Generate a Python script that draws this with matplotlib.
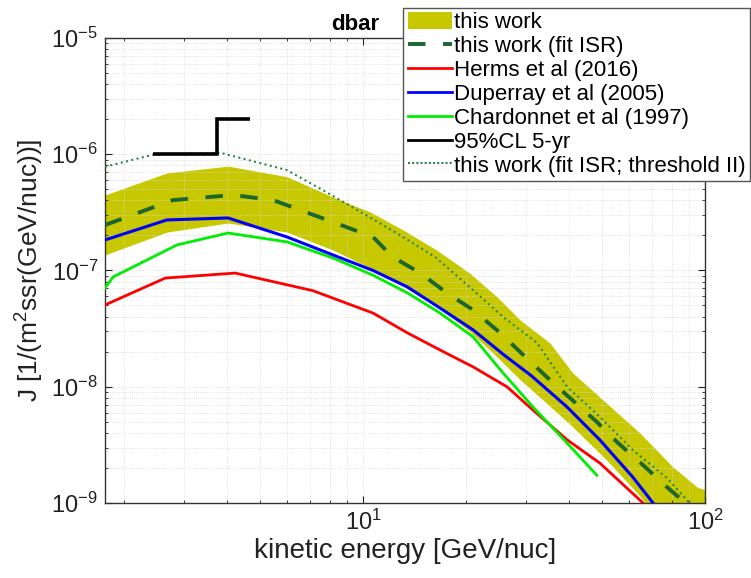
import matplotlib
matplotlib.use("Agg")
import matplotlib.pyplot as plt
from matplotlib.patches import Patch
from matplotlib.lines import Line2D
from matplotlib.ticker import NullFormatter

plt.rcParams['font.family'] = ['Liberation Sans', 'DejaVu Sans']
plt.rcParams['mathtext.fontset'] = 'custom'
plt.rcParams['mathtext.rm'] = 'Liberation Sans'
plt.rcParams['mathtext.it'] = 'Liberation Sans:italic'

# this work (band)
band_x = [1.76, 2.67, 4.03, 6.0, 8.17, 10.5, 13.1, 16.4, 20.5, 24.7, 28.8, 35.2, 41.1, 51.6, 64.5, 80.6, 94.8, 100.0]
band_hi = [4.46e-7, 6.9e-7, 7.9e-7, 6.4e-7, 4.28e-7, 3.18e-7, 2.23e-7, 1.5e-7, 9.5e-8, 5.9e-8, 3.75e-8, 2.38e-8, 1.31e-8, 7.2e-9, 4.0e-9, 2.04e-9, 1.37e-9, 1.3e-9]
band_lo = [1.36e-7, 2.14e-7, 2.56e-7, 2.14e-7, 1.5e-7, 1.05e-7, 7.3e-8, 4.9e-8, 3.0e-8, 1.8e-8, 1.15e-8, 6.8e-9, 4.5e-9, 2.34e-9, 1.15e-9, 5.0e-10, 3.0e-10, 2.5e-10]

# this work (fit ISR)
fit_x = [1.76, 2.78, 4.17, 5.46, 8.17, 10.7, 12.2, 14.7, 17.6, 21.0, 25.2, 29.4, 34.5, 40.3, 48.3, 55.7, 65.9, 77.4, 85.7, 90.0]
fit_y = [2.46e-7, 4.03e-7, 4.46e-7, 4.03e-7, 2.61e-7, 1.94e-7, 1.31e-7, 9.5e-8, 6.4e-8, 4.57e-8, 2.9e-8, 1.88e-8, 1.21e-8, 8.0e-9, 4.98e-9, 3.28e-9, 2.12e-9, 1.37e-9, 1.06e-9, 9.5e-10]

# Herms et al (2016)
herms_x = [1.76, 2.64, 4.23, 7.14, 10.7, 13.5, 16.8, 21.0, 26.4, 31.4, 39.5, 49.3, 65.9]
herms_y = [5.05e-8, 8.6e-8, 9.5e-8, 6.7e-8, 4.3e-8, 2.9e-8, 2.07e-8, 1.48e-8, 9.96e-9, 6.3e-9, 3.5e-9, 2.2e-9, 1.0e-9]

# Duperray et al (2005)
dup_x = [1.76, 2.67, 4.03, 6.0, 8.17, 10.7, 13.5, 16.8, 21.0, 26.0, 31.0, 39.5, 49.3, 61.5, 70.5]
dup_y = [1.83e-7, 2.72e-7, 2.83e-7, 1.94e-7, 1.36e-7, 1.0e-7, 7.2e-8, 4.75e-8, 3.08e-8, 1.85e-8, 1.25e-8, 6.7e-9, 3.48e-9, 1.67e-9, 1.0e-9]

# Chardonnet et al (1997)
char_x = [1.76, 1.86, 2.86, 4.03, 6.0, 8.17, 10.7, 13.5, 16.8, 21.0, 25.2, 31.4, 39.5, 48.3]
char_y = [7.06e-8, 8.8e-8, 1.66e-7, 2.1e-7, 1.76e-7, 1.28e-7, 9.1e-8, 6.4e-8, 4.3e-8, 2.68e-8, 1.4e-8, 6.7e-9, 3.28e-9, 1.73e-9]

# 95%CL 5-yr
cl_edges = [2.43, 3.74, 4.68]
cl_vals = [1e-6, 2e-6]

# this work (fit ISR; threshold II)
thr_x = [1.76, 2.43, 3.82, 6.0, 8.17, 10.5, 13.1, 16.4, 20.5, 25.7, 32.3, 39.5, 49.3, 61.5, 77.4, 88.5, 95.0]
thr_y = [7.8e-7, 9.9e-7, 1.03e-6, 7.3e-7, 4.38e-7, 2.85e-7, 1.94e-7, 1.28e-7, 7.2e-8, 3.98e-8, 2.38e-8, 1.0e-8, 5.5e-9, 2.86e-9, 1.64e-9, 1.06e-9, 8.5e-10]

band_color = '#c8c800'
fit_color = '#1c6630'
thr_color = '#2a8a45'

fig = plt.figure(figsize=(7.51, 5.78), dpi=100)
ax = fig.add_axes([0.1398, 0.1298, 0.7989, 0.8045])

ax.fill_between(band_x, band_lo, band_hi, color=band_color, lw=0, zorder=1)
ax.plot(herms_x, herms_y, color='#ff0000', lw=2, zorder=3)
ax.plot(char_x, char_y, color='#00ee00', lw=2, zorder=3)
ax.plot(dup_x, dup_y, color='#0000ff', lw=2.2, zorder=4)
ax.plot(fit_x, fit_y, color=fit_color, lw=2.8, ls=(0, (4.5, 4.5)), zorder=5)
ax.plot(thr_x, thr_y, color=thr_color, lw=1.5, ls=(0, (1, 1.6)), zorder=5)
ax.stairs(cl_vals, cl_edges, baseline=None, color='k', lw=2.6, zorder=6)

ax.set_xscale('log')
ax.set_yscale('log')
ax.set_xlim(1.76, 100)
ax.set_ylim(1e-9, 1e-5)
ax.xaxis.set_minor_formatter(NullFormatter())
ax.yaxis.set_minor_formatter(NullFormatter())

ax.grid(True, which='both', ls=':', color='#d8d8d8', lw=0.6)
ax.tick_params(which='both', direction='in', top=True, right=True, labelsize=17, colors='#222222')
ax.tick_params(which='major', length=5, width=0.8, pad=5)
ax.tick_params(which='minor', length=2.5, width=0.6)
for s in ax.spines.values():
    s.set_color('#333333')
    s.set_linewidth(1.0)

ax.set_xlabel('kinetic energy [GeV/nuc]', fontsize=20, color='#222222', labelpad=2)
ax.set_ylabel(r'J [1/(m$^2$ssr(GeV/nuc))]', fontsize=19, color='#222222', labelpad=4)
ax.set_title('dbar', fontsize=16, fontweight='bold', x=0.417, pad=6)

handles = [
    Patch(facecolor=band_color, edgecolor='none'),
    Line2D([], [], color=fit_color, lw=2.8, ls=(0, (4.5, 4.5))),
    Line2D([], [], color='#ff0000', lw=2),
    Line2D([], [], color='#0000ff', lw=2),
    Line2D([], [], color='#00ee00', lw=2),
    Line2D([], [], color='k', lw=2),
    Line2D([], [], color=thr_color, lw=1.5, ls=(0, (1, 1))),
]
labels = ['this work', 'this work (fit ISR)', 'Herms et al (2016)', 'Duperray et al (2005)',
          'Chardonnet et al (1997)', '95%CL 5-yr', 'this work (fit ISR; threshold II)']
leg = fig.legend(handles, labels, loc='upper right', bbox_to_anchor=(0.999, 0.987),
                 fontsize=16, frameon=True, fancybox=False, framealpha=1,
                 edgecolor='#555555', borderpad=0.2, labelspacing=0.12,
                 handlelength=2.0, handleheight=0.8, handletextpad=0.1, borderaxespad=0)
leg.get_frame().set_linewidth(1.0)

fig.savefig('out.png', dpi=100)
